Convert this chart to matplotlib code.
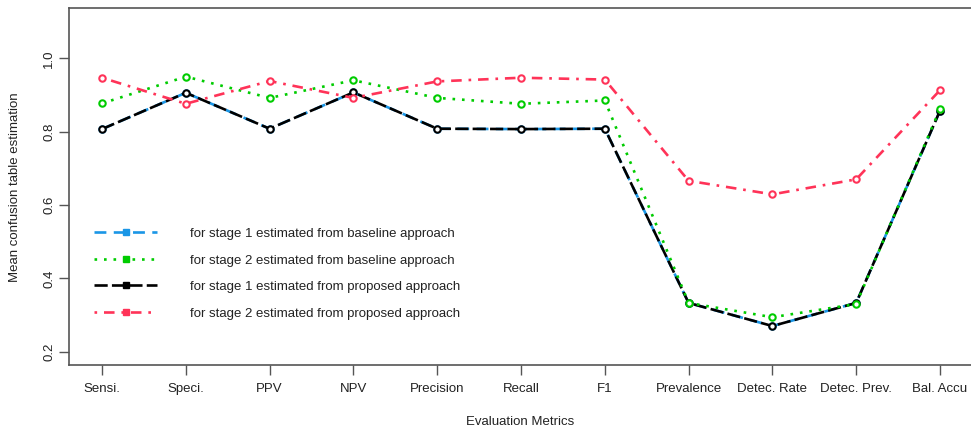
import matplotlib
matplotlib.use("Agg")
import matplotlib.pyplot as plt
from matplotlib.lines import Line2D

plt.rcParams['font.family'] = ['Liberation Sans', 'DejaVu Sans']

categories = ["Sensi.", "Speci.", "PPV", "NPV", "Precision", "Recall", "F1",
              "Prevalence", "Detec. Rate", "Detec. Prev.", "Bal. Accu"]
stage1_baseline = [0.807, 0.906, 0.808, 0.907, 0.808, 0.807, 0.808, 0.333, 0.270, 0.333, 0.857]
stage2_baseline = [0.877, 0.950, 0.892, 0.940, 0.892, 0.876, 0.885, 0.333, 0.294, 0.330, 0.862]
stage1_proposed = [0.807, 0.906, 0.808, 0.907, 0.808, 0.807, 0.808, 0.333, 0.270, 0.333, 0.857]
stage2_proposed = [0.947, 0.876, 0.938, 0.892, 0.937, 0.947, 0.942, 0.666, 0.629, 0.670, 0.913]
series_labels = ["for stage 1 estimated from baseline approach",
                 "for stage 2 estimated from baseline approach",
                 "for stage 1 estimated from proposed approach",
                 "for stage 2 estimated from proposed approach"]
yticks = [0.2, 0.4, 0.6, 0.8, 1.0]
xlabel = "Evaluation Metrics"
ylabel = "Mean confusion table estimation"

W, H = 971, 433
fig = plt.figure(figsize=(W / 100, H / 100), dpi=100)
ax = fig.add_axes([69 / W, 1 - 365 / H, (985 - 69) / W, (365 - 8) / H])

x = list(range(len(categories)))
styles = [
    dict(color="#1a96e6", dashes=(4.5, 2.8), zorder=3),
    dict(color="#00cc00", dashes=(1, 2.6), zorder=5),
    dict(color="black", dashes=(5, 1.6), zorder=4),
    dict(color="#ff3358", dashes=(1, 2.6, 4, 2.6), zorder=6),
]
data = [stage1_baseline, stage2_baseline, stage1_proposed, stage2_proposed]
handles = []
for vals, st, lab in zip(data, styles, series_labels):
    ax.plot(x, vals, color=st["color"], lw=1.9, dashes=st["dashes"],
            marker="o", ms=4.6, mfc="white", mec=st["color"], mew=1.5,
            zorder=st["zorder"])
    handles.append(Line2D([0], [0], color=st["color"], lw=1.9, dashes=st["dashes"],
                          marker="s", ms=4.8, mfc=st["color"], mec=st["color"]))

ax.set_xlim(-0.394, (985 - 102) / 83.8)
ax.set_ylim(0.2 - (365 - 351.7) / 73.35 * 0.2, 1.0 + (58.3 - 8) / 73.35 * 0.2)
ax.set_xticks(x)
ax.set_xticklabels(categories, fontsize=9.5, color="#222222")
ax.set_yticks(yticks)
ax.set_yticklabels([f"{v:.1f}" for v in yticks], rotation=90, va="center",
                   fontsize=9.5, color="#222222")
ax.tick_params(axis="both", direction="out", length=7, width=1, color="#555555")
ax.tick_params(axis="x", pad=6)
ax.tick_params(axis="y", pad=3)
for s in ax.spines.values():
    s.set_color("#555555")
    s.set_linewidth(1.2)

fig.text(520 / W, 1 - 422 / H, xlabel, ha="center", va="center", fontsize=9.5, color="#222222")
fig.text(15 / W, 1 - 187 / H, ylabel, ha="center", va="center", rotation=90,
         fontsize=9.5, color="#222222")

leg = ax.legend(handles, series_labels, loc="upper left",
                bbox_to_anchor=(82 / W, 1 - 216 / H), bbox_transform=fig.transFigure,
                frameon=False, fontsize=9.5, handlelength=4.8, handletextpad=2.5,
                labelspacing=1.08, numpoints=1)
for t in leg.get_texts():
    t.set_color("#222222")

fig.savefig("out.png", dpi=100)
